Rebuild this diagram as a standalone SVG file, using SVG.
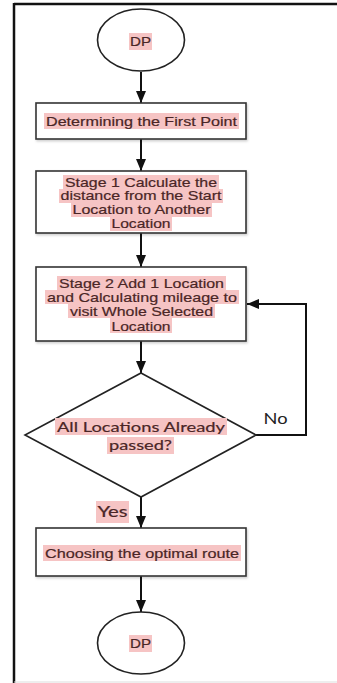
<svg xmlns="http://www.w3.org/2000/svg" width="337" height="683" viewBox="0 0 337 683">
<style>
.box{fill:#fff;stroke:#333;stroke-width:1.6;filter:url(#sh)}
.term{fill:#fff;stroke:#222;stroke-width:1.6}
.hl{fill:#f6c4c4}
.t{font-family:"Liberation Sans",Arial,sans-serif;font-size:13px;fill:#4a2626;text-anchor:middle;stroke:#4a2626;stroke-width:0.2}
.c{font-family:Lato,"Open Sans",sans-serif;font-size:14px;fill:#4a2626;text-anchor:middle;stroke:#4a2626;stroke-width:0.2}
.cn{font-family:Lato,"Open Sans",sans-serif;font-size:15px;fill:#222;text-anchor:middle}
.ln{fill:none;stroke:#111;stroke-width:2}
</style>
<defs>
<marker id="ah" markerWidth="12" markerHeight="10" refX="12" refY="5" orient="auto" markerUnits="userSpaceOnUse">
<path d="M0,0 L12,5 L0,10 Z" fill="#111"/>
</marker>
<filter id="sh" x="-5%" y="-10%" width="115%" height="130%">
<feDropShadow dx="1" dy="1.5" stdDeviation="1" flood-color="#000" flood-opacity="0.2"/>
</filter>
</defs>
<rect width="337" height="683" fill="#fff"/>
<g id="frame">
<line x1="14" y1="4" x2="337" y2="4" stroke="#111" stroke-width="2.5"/>
<line x1="14" y1="3" x2="14" y2="683" stroke="#111" stroke-width="2.5"/>
<line x1="14" y1="682" x2="337" y2="682" stroke="#ddd" stroke-width="1"/>
</g>
<g id="connectors">
<line class="ln" x1="141" y1="72" x2="141" y2="103" marker-end="url(#ah)"/>
<line class="ln" x1="141" y1="139" x2="141" y2="171" marker-end="url(#ah)"/>
<line class="ln" x1="141" y1="233" x2="141" y2="267" marker-end="url(#ah)"/>
<line class="ln" x1="141" y1="341" x2="141" y2="373" marker-end="url(#ah)"/>
<polyline class="ln" points="256,435 306,435 306,304 247,304" marker-end="url(#ah)"/>
<line class="ln" x1="141" y1="497" x2="141" y2="528" marker-end="url(#ah)"/>
<line class="ln" x1="141" y1="576" x2="141" y2="612" marker-end="url(#ah)"/>
<text class="cn" x="275.5" y="423.5" textLength="24" lengthAdjust="spacingAndGlyphs">No</text>
<rect class="hl" x="96" y="501" width="33" height="22"/>
<text class="c" x="112.5" y="517" textLength="30" lengthAdjust="spacingAndGlyphs" style="font-size:16px">Yes</text>
</g>
<g id="start">
<ellipse class="term" cx="141" cy="40" rx="43.5" ry="31"/>
<rect class="hl" x="129" y="33" width="23" height="17"/>
<text class="t" x="140.5" y="46" textLength="21" lengthAdjust="spacingAndGlyphs">DP</text>
</g>
<g id="first-point">
<rect class="box" x="36" y="103" width="210" height="36"/>
<rect class="hl" x="44" y="113" width="195" height="16"/>
<text class="t" x="141.5" y="125.5" textLength="191" lengthAdjust="spacingAndGlyphs">Determining the First Point</text>
</g>
<g id="stage1">
<rect class="box" x="36" y="171" width="210" height="62"/>
<rect class="hl" x="63" y="175" width="156" height="14"/>
<rect class="hl" x="59" y="189" width="164" height="14"/>
<rect class="hl" x="71" y="203" width="141" height="14"/>
<rect class="hl" x="110" y="217" width="62" height="14"/>
<text class="t" x="141" y="186.5" textLength="152" lengthAdjust="spacingAndGlyphs">Stage 1 Calculate the</text>
<text class="t" x="141" y="200" textLength="161" lengthAdjust="spacingAndGlyphs">distance from the Start</text>
<text class="t" x="141.5" y="214" textLength="138" lengthAdjust="spacingAndGlyphs">Location to Another</text>
<text class="t" x="141" y="228" textLength="59" lengthAdjust="spacingAndGlyphs">Location</text>
</g>
<g id="stage2">
<rect class="box" x="36" y="267" width="210" height="74"/>
<rect class="hl" x="57" y="276" width="169" height="14"/>
<rect class="hl" x="45" y="290" width="194" height="14"/>
<rect class="hl" x="68" y="304" width="147" height="14"/>
<rect class="hl" x="110" y="318" width="62" height="15"/>
<text class="t" x="141.5" y="287.5" textLength="165" lengthAdjust="spacingAndGlyphs">Stage 2 Add 1 Location</text>
<text class="t" x="142" y="301.5" textLength="190" lengthAdjust="spacingAndGlyphs">and Calculating mileage to</text>
<text class="t" x="141.5" y="316" textLength="143" lengthAdjust="spacingAndGlyphs">visit Whole Selected</text>
<text class="t" x="141" y="330.5" textLength="59" lengthAdjust="spacingAndGlyphs">Location</text>
</g>
<g id="decision">
<polygon points="141,373 256,435 141,497 25,435" fill="#fff" stroke="#222" stroke-width="1.6"/>
<rect class="hl" x="55" y="418" width="172" height="17"/>
<rect class="hl" x="107" y="437" width="67" height="17"/>
<text class="c" x="141" y="432" textLength="168" lengthAdjust="spacingAndGlyphs">All Locations Already</text>
<text class="c" x="140.5" y="450" textLength="63" lengthAdjust="spacingAndGlyphs">passed?</text>
</g>
<g id="optimal">
<rect class="box" x="36" y="528" width="210" height="48"/>
<rect class="hl" x="43" y="545" width="198" height="16"/>
<text class="t" x="142" y="557.5" textLength="194" lengthAdjust="spacingAndGlyphs">Choosing the optimal route</text>
</g>
<g id="end">
<ellipse class="term" cx="141" cy="643" rx="43.5" ry="31"/>
<rect class="hl" x="129" y="635" width="23" height="17"/>
<text class="t" x="140.5" y="648" textLength="21" lengthAdjust="spacingAndGlyphs">DP</text>
</g>
</svg>
